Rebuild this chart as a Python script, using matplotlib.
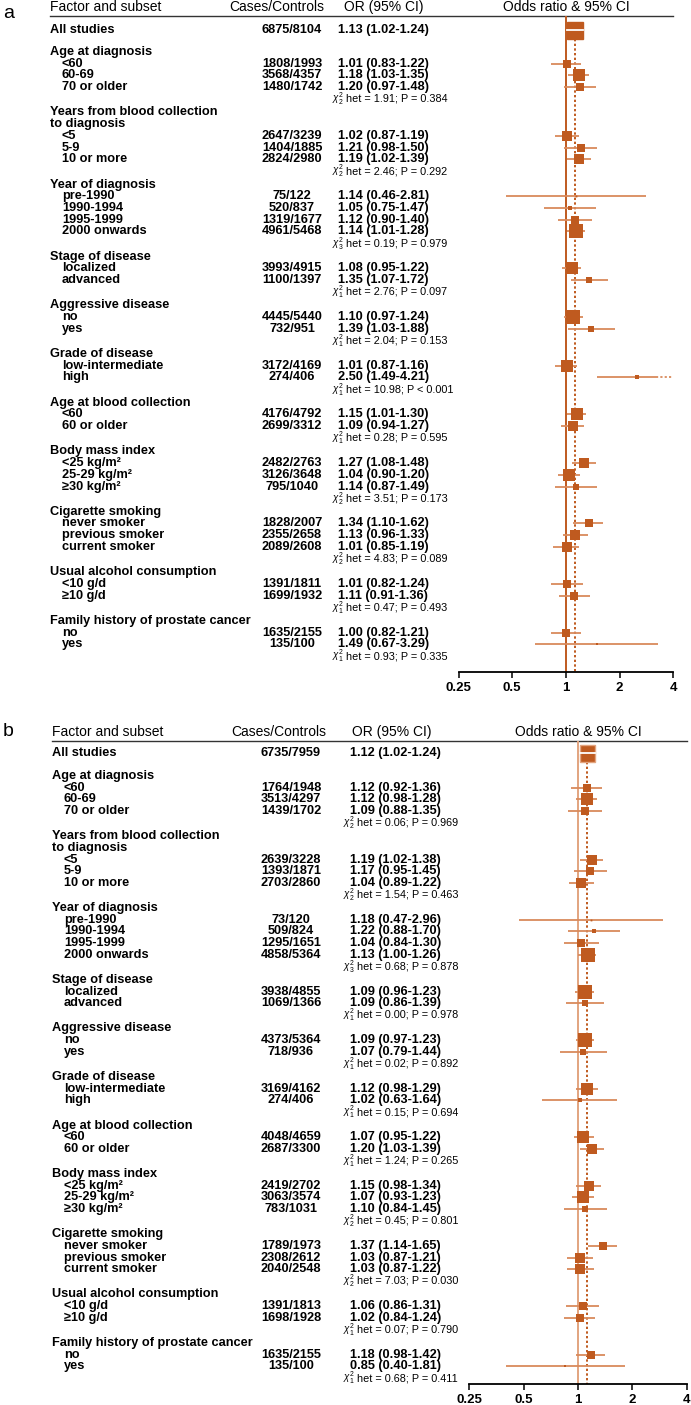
import matplotlib
matplotlib.use("Agg")
import matplotlib.pyplot as plt
from matplotlib.patches import Rectangle
import numpy as np

# ---------------- data ----------------
group_titles = [["Age at diagnosis"],
                ["Years from blood collection", "to diagnosis"],
                ["Year of diagnosis"],
                ["Stage of disease"],
                ["Aggressive disease"],
                ["Grade of disease"],
                ["Age at blood collection"],
                ["Body mass index"],
                ["Cigarette smoking"],
                ["Usual alcohol consumption"],
                ["Family history of prostate cancer"]]
subset_labels = [["<60", "60-69", "70 or older"],
                 ["<5", "5-9", "10 or more"],
                 ["pre-1990", "1990-1994", "1995-1999", "2000 onwards"],
                 ["localized", "advanced"],
                 ["no", "yes"],
                 ["low-intermediate", "high"],
                 ["<60", "60 or older"],
                 ["<25 kg/m²", "25-29 kg/m²", "≥30 kg/m²"],
                 ["never smoker", "previous smoker", "current smoker"],
                 ["<10 g/d", "≥10 g/d"],
                 ["no", "yes"]]
het_df = [2, 2, 3, 1, 1, 1, 1, 2, 2, 1, 1]
tick_values = [0.25, 0.5, 1, 2, 4]
tick_labels = ["0.25", "0.5", "1", "2", "4"]

# panel a
all_cases_a, all_or_a, all_lo_a, all_hi_a = "6875/8104", 1.13, 1.02, 1.24
cases_a = [["1808/1993", "3568/4357", "1480/1742"],
           ["2647/3239", "1404/1885", "2824/2980"],
           ["75/122", "520/837", "1319/1677", "4961/5468"],
           ["3993/4915", "1100/1397"],
           ["4445/5440", "732/951"],
           ["3172/4169", "274/406"],
           ["4176/4792", "2699/3312"],
           ["2482/2763", "3126/3648", "795/1040"],
           ["1828/2007", "2355/2658", "2089/2608"],
           ["1391/1811", "1699/1932"],
           ["1635/2155", "135/100"]]
or_a = [[1.01, 1.18, 1.20], [1.02, 1.21, 1.19], [1.14, 1.05, 1.12, 1.14],
        [1.08, 1.35], [1.10, 1.39], [1.01, 2.50], [1.15, 1.09],
        [1.27, 1.04, 1.14], [1.34, 1.13, 1.01], [1.01, 1.11], [1.00, 1.49]]
lo_a = [[0.83, 1.03, 0.97], [0.87, 0.98, 1.02], [0.46, 0.75, 0.90, 1.01],
        [0.95, 1.07], [0.97, 1.03], [0.87, 1.49], [1.01, 0.94],
        [1.08, 0.90, 0.87], [1.10, 0.96, 0.85], [0.82, 0.91], [0.82, 0.67]]
hi_a = [[1.22, 1.35, 1.48], [1.19, 1.50, 1.39], [2.81, 1.47, 1.40, 1.28],
        [1.22, 1.72], [1.24, 1.88], [1.16, 4.21], [1.30, 1.27],
        [1.48, 1.20, 1.49], [1.62, 1.33, 1.19], [1.24, 1.36], [1.21, 3.29]]
het_chi_a = ["1.91", "2.46", "0.19", "2.76", "2.04", "10.98", "0.28", "3.51", "4.83", "0.47", "0.93"]
het_p_a = ["= 0.384", "= 0.292", "= 0.979", "= 0.097", "= 0.153", "< 0.001", "= 0.595",
           "= 0.173", "= 0.089", "= 0.493", "= 0.335"]

# panel b
all_cases_b, all_or_b, all_lo_b, all_hi_b = "6735/7959", 1.12, 1.02, 1.24
cases_b = [["1764/1948", "3513/4297", "1439/1702"],
           ["2639/3228", "1393/1871", "2703/2860"],
           ["73/120", "509/824", "1295/1651", "4858/5364"],
           ["3938/4855", "1069/1366"],
           ["4373/5364", "718/936"],
           ["3169/4162", "274/406"],
           ["4048/4659", "2687/3300"],
           ["2419/2702", "3063/3574", "783/1031"],
           ["1789/1973", "2308/2612", "2040/2548"],
           ["1391/1813", "1698/1928"],
           ["1635/2155", "135/100"]]
or_b = [[1.12, 1.12, 1.09], [1.19, 1.17, 1.04], [1.18, 1.22, 1.04, 1.13],
        [1.09, 1.09], [1.09, 1.07], [1.12, 1.02], [1.07, 1.20],
        [1.15, 1.07, 1.10], [1.37, 1.03, 1.03], [1.06, 1.02], [1.18, 0.85]]
lo_b = [[0.92, 0.98, 0.88], [1.02, 0.95, 0.89], [0.47, 0.88, 0.84, 1.00],
        [0.96, 0.86], [0.97, 0.79], [0.98, 0.63], [0.95, 1.03],
        [0.98, 0.93, 0.84], [1.14, 0.87, 0.87], [0.86, 0.84], [0.98, 0.40]]
hi_b = [[1.36, 1.28, 1.35], [1.38, 1.45, 1.22], [2.96, 1.70, 1.30, 1.26],
        [1.23, 1.39], [1.23, 1.44], [1.29, 1.64], [1.22, 1.39],
        [1.34, 1.23, 1.45], [1.65, 1.21, 1.22], [1.31, 1.24], [1.42, 1.81]]
het_chi_b = ["0.06", "1.54", "0.68", "0.00", "0.02", "0.15", "1.24", "0.45", "7.03", "0.07", "0.68"]
het_p_b = ["= 0.969", "= 0.463", "= 0.878", "= 0.978", "= 0.892", "= 0.694", "= 0.265",
           "= 0.801", "= 0.030", "= 0.790", "= 0.411"]

# ---------------- style ----------------
FONT = "Liberation Sans"
DARK = "#BF5A1F"
LIGHT = "#D98A5C"
W, H = 691, 1405

plt.rcParams["mathtext.fontset"] = "custom"
plt.rcParams["mathtext.rm"] = "Liberation Sans"
plt.rcParams["mathtext.it"] = "Liberation Sans:italic"

fig = plt.figure(figsize=(W / 100, H / 100), dpi=100)
axt = fig.add_axes([0, 0, 1, 1])
axt.set_xlim(0, W)
axt.set_ylim(H, 0)
axt.axis("off")


def draw_panel(letter, geo, all_cases, all_or, all_lo, all_hi, cases, ors, los, his, hchi, hp):
    x0, x1 = geo["xa"]
    ytop, ybot = geo["line_y"], geo["axis_y"]
    ax = fig.add_axes([x0 / W, 1 - ybot / H, (x1 - x0) / W, (ybot - ytop) / H])
    ax.set_facecolor("none")
    ax.set_xscale("log")
    ax.set_xlim(0.25, 4)
    ax.set_ylim(ybot, ytop)
    for s in ["top", "left", "right"]:
        ax.spines[s].set_visible(False)
    ax.spines["bottom"].set_linewidth(1.3)
    ax.set_yticks([])
    ax.set_xticks(tick_values)
    ax.set_xticklabels(tick_labels, fontfamily=FONT, fontweight="bold", fontsize=9.5)
    ax.xaxis.set_minor_locator(matplotlib.ticker.NullLocator())
    ax.tick_params(axis="x", length=4, width=1.1, pad=3)

    axt.text(3, geo["letter_y"], letter, fontsize=14, fontfamily=FONT, ha="left", va="center")
    hy = geo["head_y"]
    axt.text(geo["x_left"], hy, "Factor and subset", fontsize=10, fontfamily=FONT, ha="left", va="center")
    axt.text(geo["head_cases"], hy, "Cases/Controls", fontsize=10, fontfamily=FONT, ha="center", va="center")
    axt.text(geo["head_or"], hy, "OR (95% CI)", fontsize=10, fontfamily=FONT, ha="left", va="center")
    xone = x0 + (x1 - x0) * (np.log2(1) - np.log2(0.25)) / (np.log2(4) - np.log2(0.25))
    axt.text(xone, hy, "Odds ratio & 95% CI", fontsize=10, fontfamily=FONT, ha="center", va="center")
    axt.plot([geo["x_left"], x1], [ytop, ytop], color="#333333", lw=1.0)

    bold = dict(fontsize=9.2, fontfamily=FONT, fontweight="bold", va="center")
    small = dict(fontsize=7.8, fontfamily=FONT, va="center")

    ya = geo["y_all"]
    axt.text(geo["x_left"], ya, "All studies", ha="left", **bold)
    axt.text(geo["cases_cx"], ya, all_cases, ha="center", **bold)
    axt.text(geo["or_x"], ya, f"{all_or:.2f} ({all_lo:.2f}-{all_hi:.2f})", ha="left", **bold)
    bh = 17
    ax.add_patch(Rectangle((all_lo, ya - bh / 2), all_hi - all_lo, bh, facecolor=DARK,
                           edgecolor=geo["box_edge"], lw=1.0, zorder=4))
    ax.plot([all_lo, all_hi], [ya, ya], color="white", lw=1.3, zorder=5)

    ax.axvline(1, color=geo["ref_color"], lw=1.4, zorder=2)
    ax.plot([all_or, all_or], [ya + bh / 2, ybot], color=DARK, lw=1.4,
            ls=(0, (1.2, 1.2)), zorder=2)

    y = geo["y_first"]
    a, g = geo["step"], geo["gap"]
    for gi in range(len(group_titles)):
        for t in group_titles[gi]:
            axt.text(geo["x_left"], y, t, ha="left", **bold)
            y += a
        for si, lab in enumerate(subset_labels[gi]):
            axt.text(geo["x_left"] + 12, y, lab, ha="left", **bold)
            axt.text(geo["cases_cx"], y, cases[gi][si], ha="center", **bold)
            o, lo, hi = ors[gi][si], los[gi][si], his[gi][si]
            axt.text(geo["or_x"], y, f"{o:.2f} ({lo:.2f}-{hi:.2f})", ha="left", **bold)
            if hi > 4:
                ax.plot([lo, 3.2], [y, y], color=LIGHT, lw=1.3, zorder=3, solid_capstyle="butt")
                ax.plot([3.2, 4], [y, y], color=LIGHT, lw=1.3, ls=(0, (1.2, 1.2)), zorder=3)
            else:
                ax.plot([lo, hi], [y, y], color=LIGHT, lw=1.3, zorder=3, solid_capstyle="butt")
            side_px = 3.25 / np.log(hi / lo)
            ax.plot([o], [y], marker="s", ms=side_px * 0.72, color=DARK, mew=0, zorder=4)
            y += a
        axt.text(geo["chi_x"], y, rf"$\chi^2_{het_df[gi]}$", fontsize=7, fontfamily=FONT,
                 va="center", ha="left")
        axt.text(geo["het_x"], y, f"het = {hchi[gi]}; P {hp[gi]}", ha="left", **small)
        y += a + g
    return ax


geo_a = dict(xa=(458.5, 673.3), line_y=16, axis_y=672, letter_y=13, head_y=7,
             x_left=50, head_cases=277, head_or=344, cases_cx=292, or_x=338,
             chi_x=332.5, het_x=346, y_all=30, y_first=52, step=11.72, gap=1.8,
             ref_color=DARK, box_edge=DARK)
geo_b = dict(xa=(469.3, 686.7), line_y=741, axis_y=1384, letter_y=731, head_y=732,
             x_left=52, head_cases=279, head_or=352, cases_cx=291, or_x=350,
             chi_x=343.5, het_x=357, y_all=753, y_first=776, step=11.68, gap=1.8,
             ref_color="#E2A47F", box_edge="#E2A47F")

draw_panel("a", geo_a, all_cases_a, all_or_a, all_lo_a, all_hi_a, cases_a, or_a, lo_a, hi_a,
           het_chi_a, het_p_a)
draw_panel("b", geo_b, all_cases_b, all_or_b, all_lo_b, all_hi_b, cases_b, or_b, lo_b, hi_b,
           het_chi_b, het_p_b)

fig.savefig("out.png", dpi=100)
